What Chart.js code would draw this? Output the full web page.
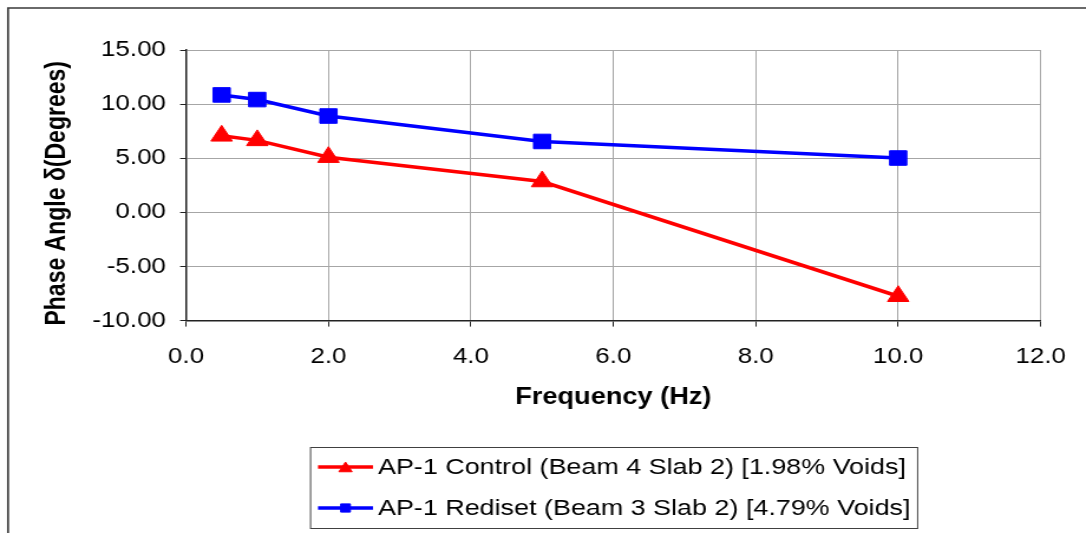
<!DOCTYPE html>
<html>
<head>
<meta charset="utf-8">
<script src="https://cdn.jsdelivr.net/npm/chart.js@4/dist/chart.umd.min.js"></script>
<style>
  html, body { margin: 0; padding: 0; background: #ffffff; overflow: hidden; }
  #wrap { width: 1086px; height: 533px; overflow: hidden; }
  /* the chart is laid out on a narrower canvas and widened to the page */
  #chart { display: block; width: 920px; height: 533px; transform: scaleX(1.1804); transform-origin: 0 0; }
</style>
</head>
<body>
<div id="wrap"><canvas id="chart" width="920" height="533"></canvas></div>
<script>
// Loading frequencies (Hz)
const frequencies = [0.5, 1.0, 2.0, 5.0, 10.0];
// Phase angle (degrees) for each mix
const controlPhase = [7.07, 6.65, 5.10, 2.85, -7.75];
const redisetPhase = [10.85, 10.42, 8.90, 6.55, 5.02];
// Series names
const seriesNames = [
  'AP-1 Control (Beam 4 Slab 2) [1.98% Voids]',
  'AP-1 Rediset (Beam 3 Slab 2) [4.79% Voids]'
];
// Axis titles
const xTitle = 'Frequency (Hz)';
const yTitle = 'Phase Angle \u03b4(Degrees)';

const FONT = "'Liberation Sans', Arial, sans-serif";

function pairs(xs, ys) {
  return xs.map((x, i) => ({ x: x, y: ys[i] }));
}

// Outer frame around the chart
const framePlugin = {
  id: 'frame',
  beforeDraw(chart) {
    const ctx = chart.ctx;
    ctx.save();
    ctx.strokeStyle = '#3a3a3a';
    ctx.lineWidth = 1.7;
    ctx.beginPath();
    ctx.moveTo(6.8, chart.height + 2);
    ctx.lineTo(6.8, 8);
    ctx.lineTo(chart.width + 2, 8);
    ctx.stroke();
    ctx.restore();
  }
};

// Vertical value-axis title, set a little below the plot's middle
const yTitlePlugin = {
  id: 'yTitle',
  afterDraw(chart) {
    const ctx = chart.ctx;
    const area = chart.chartArea;
    ctx.save();
    ctx.translate(48.3, (area.top + area.bottom) / 2 + 8);
    ctx.rotate(-Math.PI / 2);
    ctx.fillStyle = '#000000';
    ctx.font = 'bold 23px ' + FONT;
    ctx.textAlign = 'center';
    ctx.textBaseline = 'middle';
    ctx.fillText(yTitle, 0, 0);
    ctx.restore();
  }
};

// Boxed legend with a line sample and marker for each series
const boxLegendPlugin = {
  id: 'boxLegend',
  afterDraw(chart) {
    const ctx = chart.ctx;
    const box = { left: 262.6, top: 447, right: 776.9, bottom: 528 };
    const rows = [467, 508];
    ctx.save();
    ctx.strokeStyle = '#404040';
    ctx.lineWidth = 1;
    ctx.strokeRect(box.left + 0.5, box.top + 0.5, box.right - box.left, box.bottom - box.top);
    chart.data.datasets.forEach((ds, i) => {
      const y = rows[i];
      ctx.strokeStyle = ds.borderColor;
      ctx.lineWidth = 3.5;
      ctx.beginPath();
      ctx.moveTo(269.4, y);
      ctx.lineTo(316, y);
      ctx.stroke();
      ctx.fillStyle = ds.backgroundColor;
      ctx.strokeStyle = ds.borderColor;
      ctx.lineWidth = 1;
      Chart.helpers.drawPoint(ctx, {
        pointStyle: ds.pointStyle,
        radius: ds.pointStyle === 'triangle' ? 6.5 : 5.8,
        borderWidth: 1,
        rotation: 0
      }, 292.7, ds.pointStyle === 'triangle' ? y + 1.5 : y);
      ctx.fillStyle = '#000000';
      ctx.font = '22.8px ' + FONT;
      ctx.textAlign = 'left';
      ctx.textBaseline = 'middle';
      ctx.fillText(ds.label, 320.2, y + 1);
    });
    ctx.restore();
  }
};

new Chart(document.getElementById('chart'), {
  type: 'line',
  data: {
    datasets: [
      {
        label: seriesNames[0],
        data: pairs(frequencies, controlPhase),
        borderColor: '#ff0000',
        backgroundColor: '#ff0000',
        borderWidth: 3.5,
        pointStyle: 'triangle',
        pointRadius: 10.5,
        pointBorderWidth: 1,
        tension: 0
      },
      {
        label: seriesNames[1],
        data: pairs(frequencies, redisetPhase),
        borderColor: '#0000ff',
        backgroundColor: '#0000ff',
        borderWidth: 3.5,
        pointStyle: 'rect',
        pointRadius: 10.3,
        pointBorderWidth: 1,
        tension: 0
      }
    ]
  },
  options: {
    responsive: false,
    animation: false,
    devicePixelRatio: 1,
    layout: { padding: { left: 36, top: 50, right: 31.8, bottom: 121.8 } },
    plugins: {
      legend: { display: false },
      tooltip: { enabled: false }
    },
    scales: {
      x: {
        type: 'linear',
        min: 0,
        max: 12,
        ticks: {
          stepSize: 2,
          padding: 17,
          color: '#000000',
          font: { family: FONT, size: 22 },
          callback: (v) => Number(v).toFixed(1),
          maxRotation: 0
        },
        grid: { color: '#a6a6a6', lineWidth: 1, tickLength: 6, tickColor: '#222222' },
        border: { color: '#222222', width: 1.5 },
        title: {
          display: true,
          text: xTitle,
          color: '#000000',
          font: { family: FONT, size: 23, weight: 'bold' },
          padding: 0
        },
        afterFit(scale) { scale.height = 90.6; }
      },
      y: {
        type: 'linear',
        min: -10,
        max: 15,
        ticks: {
          stepSize: 5,
          padding: 12,
          color: '#000000',
          font: { family: FONT, size: 22 },
          callback: (v) => Number(v).toFixed(2)
        },
        grid: { color: '#a6a6a6', lineWidth: 1, tickLength: 5, tickColor: '#222222' },
        border: { color: '#222222', width: 1.5 },
        title: { display: false },
        afterFit(scale) { scale.width = 121.6; }
      }
    }
  },
  plugins: [framePlugin, yTitlePlugin, boxLegendPlugin]
});
</script>
</body>
</html>
